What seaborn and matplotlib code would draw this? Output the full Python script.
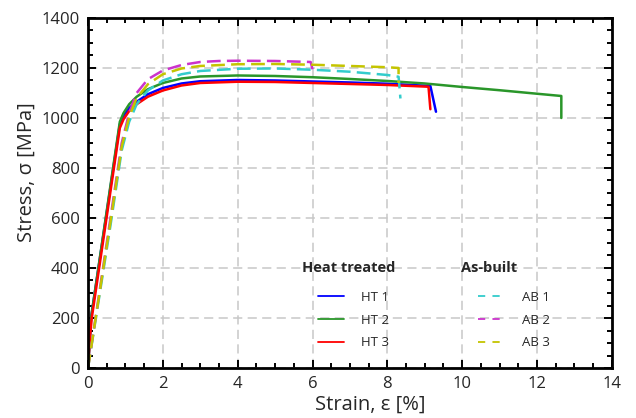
import pandas as pd
import matplotlib.pyplot as plt
from matplotlib.lines import Line2D
from matplotlib.ticker import MultipleLocator
import seaborn as sns

# Tensile curves: strain [%], stress [MPa]
ht1_strain = [0, 0.08, 0.85, 0.95, 1.1, 1.3, 1.6, 2.0, 2.5, 3.0, 4.0, 5.0, 6.0, 7.0, 8.0, 9.15, 9.3]
ht1_stress = [0, 200, 975, 1010, 1040, 1065, 1095, 1120, 1138, 1147, 1152, 1150, 1146, 1142, 1137, 1128, 1025]

ht2_strain = [0, 0.08, 0.85, 0.95, 1.1, 1.3, 1.6, 2.0, 2.5, 3.0, 4.0, 5.0, 6.0, 7.0, 8.0, 9.0,
              10.0, 11.0, 12.0, 12.65, 12.65]
ht2_stress = [0, 200, 985, 1020, 1055, 1085, 1115, 1140, 1158, 1166, 1170, 1168, 1163, 1156, 1148, 1138,
              1124, 1111, 1097, 1088, 1000]

ht3_strain = [0, 0.05, 0.1, 0.85, 0.95, 1.1, 1.3, 1.6, 2.0, 2.5, 3.0, 4.0, 5.0, 6.0, 7.0, 8.0, 9.1, 9.15]
ht3_stress = [0, 120, 200, 960, 995, 1028, 1055, 1085, 1110, 1130, 1140, 1145, 1144, 1140, 1136, 1132, 1125, 1035]

ab1_strain = [0, 0.2, 0.6, 0.9, 1.1, 1.3, 1.6, 2.0, 2.5, 3.0, 4.0, 5.0, 6.0, 7.0, 8.0, 8.3, 8.35]
ab1_stress = [0, 190, 570, 870, 985, 1055, 1110, 1150, 1175, 1188, 1197, 1198, 1193, 1185, 1172, 1165, 1078]

ab2_strain = [0, 0.2, 0.6, 0.9, 1.1, 1.3, 1.6, 2.0, 2.5, 3.0, 3.5, 4.0, 5.0, 5.95, 6.0]
ab2_stress = [0, 200, 600, 900, 1020, 1100, 1155, 1190, 1212, 1224, 1228, 1229, 1228, 1224, 1195]

ab3_strain = [0, 0.2, 0.6, 0.9, 1.1, 1.3, 1.6, 2.0, 2.5, 3.0, 4.0, 5.0, 6.0, 7.0, 8.0, 8.3, 8.3]
ab3_stress = [0, 195, 585, 885, 1005, 1080, 1135, 1175, 1198, 1208, 1215, 1216, 1213, 1208, 1203, 1200, 1140]

ht_names = ["HT 1", "HT 2", "HT 3"]
ab_names = ["AB 1", "AB 2", "AB 3"]
ht_data = [(ht1_strain, ht1_stress), (ht2_strain, ht2_stress), (ht3_strain, ht3_stress)]
ab_data = [(ab1_strain, ab1_stress), (ab2_strain, ab2_stress), (ab3_strain, ab3_stress)]
ht_colors = ["#0000ff", "#2a962a", "#ff0000"]
ab_colors = ["#33cccc", "#cc33cc", "#c4c400"]

sns.set_style("ticks")
plt.rcParams['font.family'] = ['Open Sans', 'DejaVu Sans']

fig = plt.figure(figsize=(6.36, 4.18), dpi=100)
ax = fig.add_axes([0.1384, 0.1196, 0.8236, 0.8374])

for (x, y), c in zip(ht_data, ht_colors):
    df = pd.DataFrame({"strain": x, "stress": y})
    sns.lineplot(data=df, x="strain", y="stress", ax=ax, color=c, lw=1.8,
                 sort=False, estimator=None)

for (x, y), c in zip(ab_data, ab_colors):
    df = pd.DataFrame({"strain": x, "stress": y})
    sns.lineplot(data=df, x="strain", y="stress", ax=ax, color=c, lw=1.8,
                 sort=False, estimator=None)
    ax.lines[-1].set_dashes([5.5, 2.5])

ax.set_xlim(0, 14)
ax.set_ylim(0, 1400)
ax.xaxis.set_major_locator(MultipleLocator(2))
ax.xaxis.set_minor_locator(MultipleLocator(0.5))
ax.yaxis.set_major_locator(MultipleLocator(200))
ax.yaxis.set_minor_locator(MultipleLocator(50))
ax.tick_params(which="both", direction="in", top=True, right=True, width=1.4, color="black")
ax.tick_params(which="major", length=6, labelsize=12, pad=6)
ax.tick_params(which="minor", length=3.5)
for s in ax.spines.values():
    s.set_linewidth(2)
    s.set_color("black")
ax.grid(True, which="major", ls=(0, (6, 3.5)), color="#c8c8c8", lw=1.1)

ax.set_xlabel("Strain, ε [%]", fontsize=14.5)
ax.set_ylabel("Stress, σ [MPa]", fontsize=14.5)
ax.xaxis.set_label_coords(0.538, -0.075)
ax.yaxis.set_label_coords(-0.098, 0.56)

# legend: group titles as text, entries as two legends without frame
ax.text(0.408, 0.286, "Heat treated", transform=ax.transAxes, fontsize=10.5,
        fontweight="bold", va="center", ha="left")
ax.text(0.712, 0.286, "As-built", transform=ax.transAxes, fontsize=10.5,
        fontweight="bold", va="center", ha="left")

ht_handles = [Line2D([], [], color=c, lw=1.3) for c in ht_colors]
ab_handles = [Line2D([], [], color=c, lw=1.3, dashes=[4, 4]) for c in ab_colors]

leg_kw = dict(loc="center left", frameon=False, fontsize=9.5,
              handlelength=2.0, handletextpad=1.3, labelspacing=0.75)
leg1 = ax.legend(ht_handles, ht_names, bbox_to_anchor=(0.416, 0.137), **leg_kw)
ax.add_artist(leg1)
ax.legend(ab_handles, ab_names, bbox_to_anchor=(0.722, 0.137), **leg_kw)

fig.savefig("out.png", dpi=100)
